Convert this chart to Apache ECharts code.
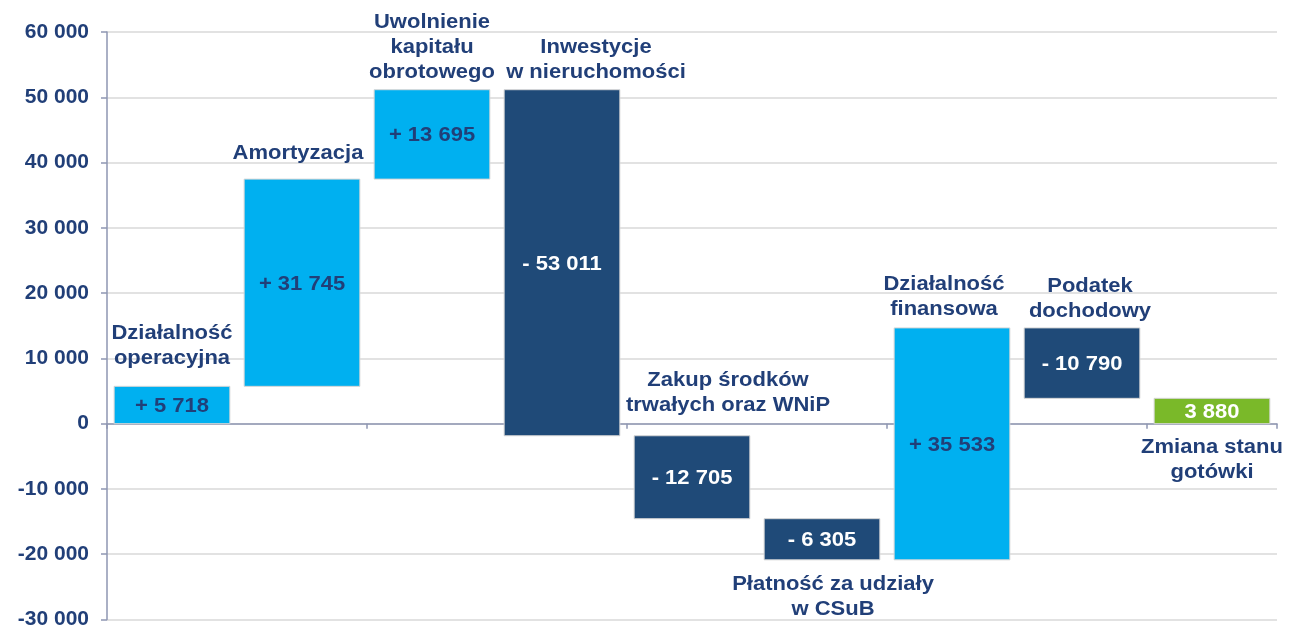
<!DOCTYPE html>
<html>
<head>
<meta charset="utf-8">
<script src="https://cdn.jsdelivr.net/npm/echarts@6/dist/echarts.min.js"></script>
<style>html,body{margin:0;padding:0;background:#fff}#c{width:1289px;height:630px}</style>
</head>
<body>
<div id="c"></div>
<script>
// ---- data ----
var categories = [
  'Działalność\noperacyjna',
  'Amortyzacja',
  'Uwolnienie\nkapitału\nobrotowego',
  'Inwestycje\nw nieruchomości',
  'Zakup środków\ntrwałych oraz WNiP',
  'Płatność za udziały\nw CSuB',
  'Działalność\nfinansowa',
  'Podatek\ndochodowy',
  'Zmiana stanu\ngotówki'
];
var deltas = [5718, 31745, 13695, -53011, -12705, -6305, 35533, -10790];
var total = 3880;
var yTicks = { min: -30000, max: 60000, interval: 10000 };

// ---- layout / style (not data) ----
var labelLayout = [ // [position, dx, gap]
  ['top', 0, 30], ['top', -4, 28], ['top', 0, 20], ['top', 34, 20],
  ['top', 36, 33], ['bottom', 11, 22], ['top', -8, 21], ['top', 8, 19], ['bottom', 0, 21]
];
var COL_POS = '#00B0F0', COL_NEG = '#1F4A78', COL_TOT = '#7AB929', NAVY = '#213F78';
var FONT = '"Liberation Sans", Arial, sans-serif';
var SX = 1.1;

function fmt(n) {
  var s = String(Math.abs(n)).replace(/\B(?=(\d{3})+(?!\d))/g, ' ');
  return (n < 0 ? '-' : '') + s;
}

// build waterfall ranges
var items = [];
var run = 0;
deltas.forEach(function (d, i) {
  var a = run, b = run + d;
  items.push([i, Math.min(a, b), Math.max(a, b), d, d >= 0 ? 1 : -1]);
  run = b;
});
items.push([deltas.length, Math.min(0, total), Math.max(0, total), total, 0]);

var chart = echarts.init(document.getElementById('c'));
chart.setOption({
  animation: false,
  grid: { left: 107, right: 12, top: 32, bottom: 9, containLabel: false },
  xAxis: {
    type: 'category',
    data: categories,
    axisLine: { onZero: true, lineStyle: { color: '#8E96B2', width: 1.5 } },
    axisTick: { show: true, length: 5, lineStyle: { color: '#8E96B2', width: 1.5 } },
    axisLabel: { show: false },
    splitLine: { show: false }
  },
  yAxis: {
    type: 'value',
    min: yTicks.min, max: yTicks.max, interval: yTicks.interval,
    axisLine: { show: true, lineStyle: { color: '#8E96B2', width: 1.5 } },
    axisTick: { show: true, length: 6, lineStyle: { color: '#8E96B2', width: 1.5 } },
    splitLine: { lineStyle: { color: '#D9D9D9', width: 1.5 } },
    axisLabel: {
      formatter: function (v) { return fmt(v); },
      color: NAVY, fontFamily: FONT, fontWeight: 'bold', fontSize: 21, margin: 18
    }
  },
  series: [{
    type: 'custom',
    data: items,
    encode: { x: 0, y: [1, 2] },
    renderItem: function (params, api) {
      var i = api.value(0);
      var lo = api.value(1), hi = api.value(2), d = api.value(3), kind = api.value(4);
      var pTop = api.coord([i, hi]);
      var pBot = api.coord([i, lo]);
      var bw = api.size([1, 0])[0] * 0.89;
      var x = pTop[0] - bw / 2;
      var fill = kind === 1 ? COL_POS : (kind === -1 ? COL_NEG : COL_TOT);
      var valTxt = kind === 0 ? fmt(d) : (d >= 0 ? '+ ' : '- ') + fmt(Math.abs(d));
      var valCol = kind === 1 ? NAVY : '#FFFFFF';
      var lay = labelLayout[i];
      var cx = pTop[0] + lay[1];
      var ty, va;
      if (lay[0] === 'top') { ty = pTop[1] - lay[2] + 15; va = 'bottom'; }
      else { ty = pBot[1] + lay[2] - 9.5; va = 'top'; }
      return {
        type: 'group',
        children: [
          { type: 'rect', shape: { x: x, y: pTop[1], width: bw, height: pBot[1] - pTop[1] },
            style: { fill: fill, stroke: '#D6D6D6', lineWidth: 1 } },
          { type: 'text', x: pTop[0], y: (pTop[1] + pBot[1]) / 2 + 1.5, scaleX: SX,
            style: { text: valTxt, x: 0, y: 0,
              align: 'center', verticalAlign: 'middle', fill: valCol,
              font: 'bold 20px ' + FONT } },
          { type: 'text', x: cx, y: ty, scaleX: SX,
            style: { text: categories[i], x: 0, y: 0,
              align: 'center', verticalAlign: va, fill: NAVY, lineHeight: 25,
              font: 'bold 20px ' + FONT } }
        ]
      };
    }
  }]
});
</script>
</body>
</html>
